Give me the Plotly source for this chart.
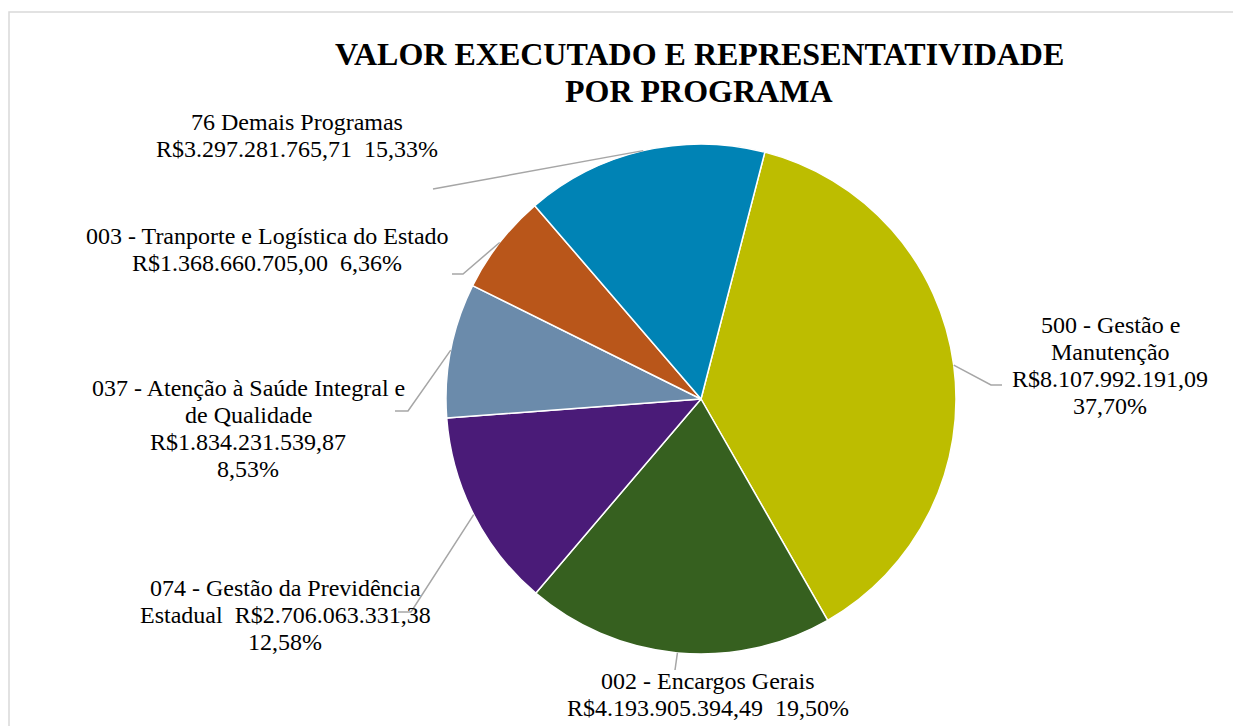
import math
import plotly.graph_objects as go

# ---- data ----
programas = [
    "500 - Gestão e Manutenção",
    "002 - Encargos Gerais",
    "074 - Gestão da Previdência Estadual",
    "037 - Atenção à Saúde Integral e de Qualidade",
    "003 - Tranporte e Logística do Estado",
    "76 Demais Programas",
]
valores = [8107992191.09, 4193905394.49, 2706063331.38, 1834231539.87, 1368660705.00, 3297281765.71]
valores_txt = ["R$8.107.992.191,09", "R$4.193.905.394,49", "R$2.706.063.331,38",
               "R$1.834.231.539,87", "R$1.368.660.705,00", "R$3.297.281.765,71"]
percent_txt = ["37,70%", "19,50%", "12,58%", "8,53%", "6,36%", "15,33%"]
SP2 = "\u00a0 "
label_lines = [
    ["500 - Gestão e", "Manutenção", valores_txt[0], percent_txt[0]],
    ["002 - Encargos Gerais", valores_txt[1] + SP2 + percent_txt[1]],
    ["074 - Gestão da Previdência", "Estadual" + SP2 + valores_txt[2], percent_txt[2]],
    ["037 - Atenção à Saúde Integral e", "de Qualidade", valores_txt[3], percent_txt[3]],
    ["003 - Tranporte e Logística do Estado", valores_txt[4] + SP2 + percent_txt[4]],
    ["76 Demais Programas", valores_txt[5] + SP2 + percent_txt[5]],
]
titulo = ["VALOR EXECUTADO E REPRESENTATIVIDADE", "POR PROGRAMA"]
cores = ["#bdbd00", "#36601f", "#4a1b78", "#6b8bab", "#b9561a", "#0083b5"]

# ---- layout constants (window pixels) ----
OFF = 8                      # page body margin
W, H = 1241 - OFF, 726 - OFF
CX, CY, R = 701, 399, 255
ROT = 14.5
label_pos = [(1110, 325), (708, 681), (285, 588), (248, 388), (267, 236), (297, 122)]
leader_knee = [(991, 385), (675, 670), (411, 612), (408, 411), (463, 274), (433, 189)]
leader_end = [(1002, 385), (675, 670), (398, 612), (395, 411), (452, 274), (433, 189)]
LINE_H = 27
FONT = "Liberation Serif, Times New Roman, serif"

def px(x):
    return (x - OFF) / W

def py(y):
    return 1 - (y - OFF) / H

fig = go.Figure(go.Pie(
    labels=programas,
    values=valores,
    sort=False,
    direction="clockwise",
    rotation=ROT,
    marker=dict(colors=cores, line=dict(color="#ffffff", width=1.5)),
    textinfo="none",
    hoverinfo="label+value+percent",
    showlegend=False,
    domain=dict(x=[px(CX - R), px(CX + R)], y=[py(CY + R), py(CY - R)]),
))

annotations = []
shapes = []

for i, t in enumerate(titulo):
    annotations.append(dict(
        text="<b>" + t + "</b>", x=px(699), y=py(54 + i * 37), xref="paper", yref="paper",
        showarrow=False, xanchor="center", yanchor="middle",
        font=dict(family=FONT, size=32, color="#000000"),
    ))

total = sum(valores)
cum = 0.0
for k, v in enumerate(valores):
    mid = ROT + (cum + v / 2) / total * 360.0
    cum += v
    a = math.radians(mid)
    ex = CX + R * math.sin(a)
    ey = CY - R * math.cos(a)
    kx, ky = leader_knee[k]
    lx, ly = leader_end[k]
    shapes.append(dict(
        type="path", xref="paper", yref="paper",
        path=f"M {px(ex)} {py(ey)} L {px(kx)} {py(ky)} L {px(lx)} {py(ly)}",
        line=dict(color="#a6a6a6", width=1.5),
    ))
    cx, cy = label_pos[k]
    for j, line in enumerate(label_lines[k]):
        annotations.append(dict(
            text=line, x=px(cx), y=py(cy + j * LINE_H), xref="paper", yref="paper",
            showarrow=False, xanchor="center", yanchor="middle",
            font=dict(family=FONT, size=24, color="#000000"),
        ))

shapes.append(dict(type="rect", xref="paper", yref="paper",
                   x0=px(9), x1=px(1270), y0=py(770), y1=py(12),
                   line=dict(color="#d9d9d9", width=1.5), layer="below"))

fig.update_layout(
    width=W, height=H,
    margin=dict(l=0, r=0, t=0, b=0),
    paper_bgcolor="#ffffff",
    plot_bgcolor="#ffffff",
    annotations=annotations,
    shapes=shapes,
)

fig.write_html("out.html")
